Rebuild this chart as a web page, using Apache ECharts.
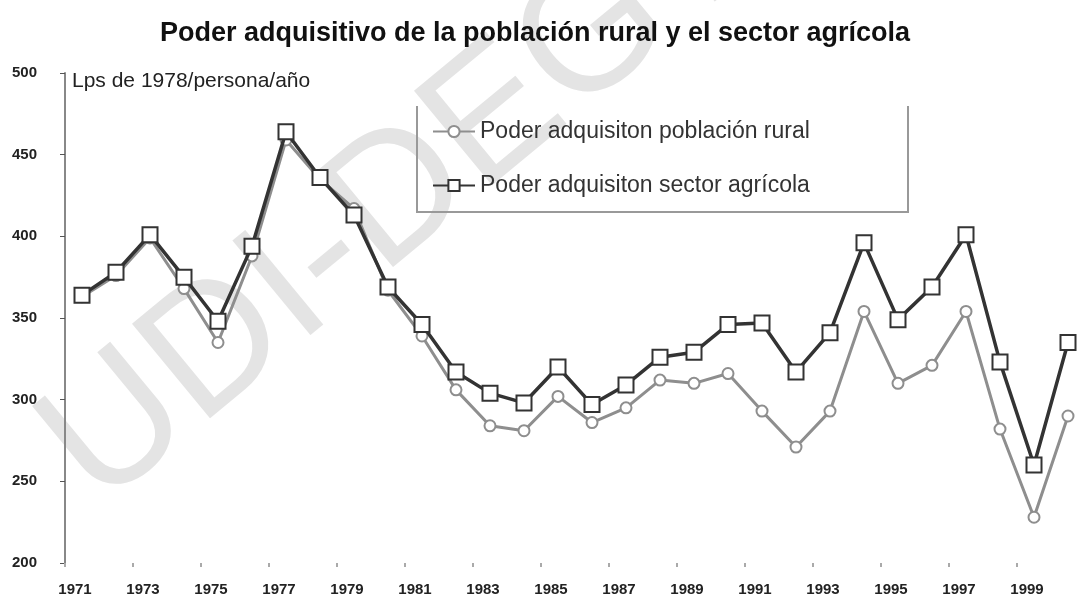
<!DOCTYPE html>
<html>
<head>
<meta charset="utf-8">
<script src="https://cdn.jsdelivr.net/npm/echarts@6/dist/echarts.min.js"></script>
<style>
  html, body { margin: 0; padding: 0; background: #fff; }
  #chart { width: 1077px; height: 600px; }
</style>
</head>
<body>
<div id="chart"></div>
<script>
// años
const years = ['1971', '1972', '1973', '1974', '1975', '1976', '1977', '1978', '1979', '1980',
  '1981', '1982', '1983', '1984', '1985', '1986', '1987', '1988', '1989', '1990',
  '1991', '1992', '1993', '1994', '1995', '1996', '1997', '1998', '1999', '2000']
// poder adquisitivo población rural
const rural = [363, 376, 399, 368, 335, 388, 459, 435, 417, 367,
  339, 306, 284, 281, 302, 286, 295, 312, 310, 316,
  293, 271, 293, 354, 310, 321, 354, 282, 228, 290]
// poder adquisitivo sector agrícola
const agricola = [364, 378, 401, 375, 348, 394, 464, 436, 413, 369,
  346, 317, 304, 298, 320, 297, 309, 326, 329, 346,
  347, 317, 341, 396, 349, 369, 401, 323, 260, 335]
const yTicks = [200, 250, 300, 350, 400, 450, 500]

const names = ['Poder adquisiton población rural', 'Poder adquisiton sector agrícola']

let mychart = echarts.init(document.getElementById('chart'))
const option = {
  backgroundColor: '#fff',
  animation: false,
  textStyle: { fontFamily: 'Liberation Sans, Arial, sans-serif' },
  title: {
    text: 'Poder adquisitivo de la población rural y el sector agrícola',
    left: 530,
    top: 15,
    textAlign: 'center',
    textStyle: { fontSize: 27, fontWeight: 'bold', color: '#111' },
  },
  legend: {
    orient: 'vertical',
    left: 432,
    top: 120,
    padding: 0,
    itemWidth: 42,
    itemHeight: 14,
    itemGap: 31,
    textStyle: { fontSize: 23, color: '#333' },
    data: names,
  },
  grid: {
    left: 65,
    width: 1020,
    top: 73,
    bottom: 37,
    outerBoundsMode: 'none',
  },
  xAxis: {
    type: 'category',
    data: years,
    boundaryGap: true,
    axisLine: { show: false },
    axisTick: { show: true, length: 4, lineStyle: { color: '#aaa', width: 2 } },
    axisLabel: {
      interval: 1,
      margin: 19,
      padding: [0, 14, 0, 0],
      fontSize: 15,
      fontWeight: 'bold',
      color: '#222',
    },
    splitLine: { show: false },
  },
  yAxis: {
    type: 'value',
    min: yTicks[0],
    max: yTicks[yTicks.length - 1],
    interval: 50,
    axisLine: { show: true, lineStyle: { color: '#888', width: 2 } },
    axisTick: { show: true, length: 5, lineStyle: { color: '#555', width: 1 } },
    axisLabel: {
      align: 'left',
      margin: 53,
      fontSize: 15,
      fontWeight: 'bold',
      color: '#222',
    },
    splitLine: { show: false },
  },
  graphic: [
    // marca de agua
    {
      type: 'text',
      z: -10,
      x: 125,
      y: 540,
      rotation: 0.69,
      style: {
        text: 'UDI-DEGT',
        fontSize: 178,
        fontFamily: 'Liberation Sans, Arial, sans-serif',
        fill: '#e4e4e4',
        textAlign: 'left',
        textVerticalAlign: 'bottom',
      },
    },
    {
      type: 'text',
      left: 72,
      top: 71,
      style: {
        text: 'Lps de 1978/persona/año',
        fontSize: 21,
        fill: '#222',
      },
    },
    // marco de la leyenda
    {
      type: 'polyline',
      shape: { points: [[417, 106], [417, 212], [908, 212], [908, 106]] },
      style: { stroke: '#999', lineWidth: 2, fill: null },
    },
  ],
  series: [
    {
      name: names[0],
      type: 'line',
      data: rural,
      z: 2,
      symbol: 'emptyCircle',
      symbolSize: 11,
      color: '#8e8e8e',
      lineStyle: { width: 3, color: '#8e8e8e' },
      itemStyle: { color: '#8e8e8e', borderWidth: 2 },
    },
    {
      name: names[1],
      type: 'line',
      data: agricola,
      z: 3,
      symbol: 'emptyRect',
      symbolSize: 15,
      color: '#333',
      lineStyle: { width: 3.5, color: '#333' },
      itemStyle: { color: '#333', borderWidth: 2 },
    },
  ],
}
mychart.setOption(option)
</script>
</body>
</html>
